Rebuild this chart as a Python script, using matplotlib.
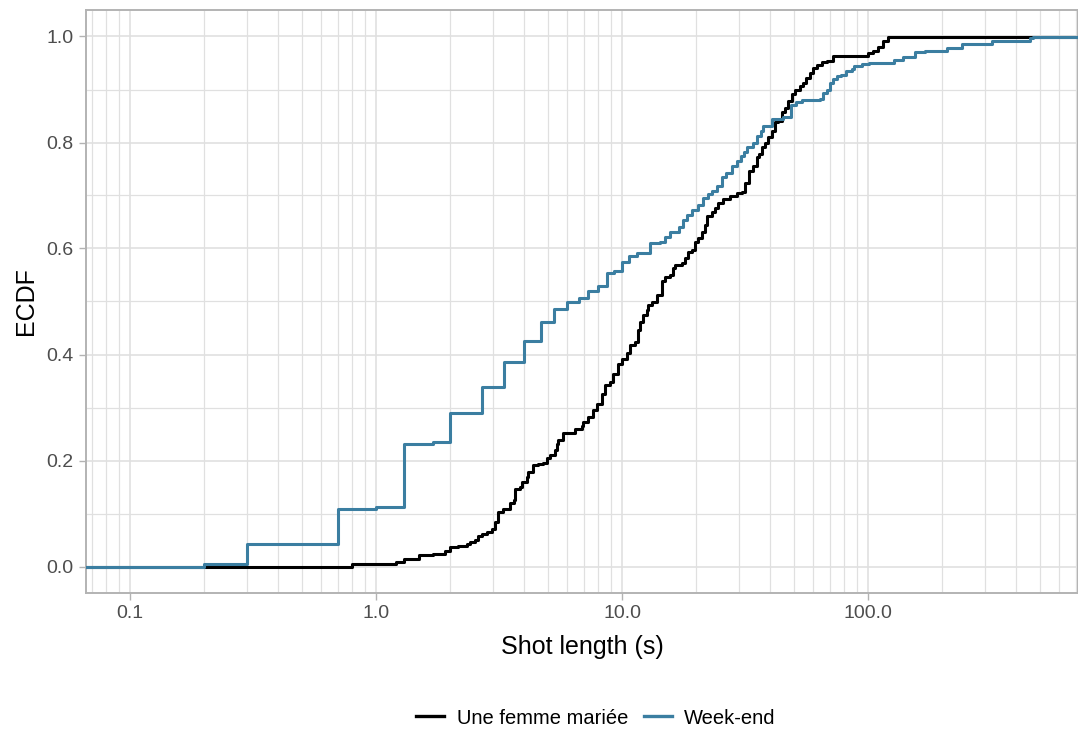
import numpy as np
import matplotlib
matplotlib.use("Agg")
import matplotlib.pyplot as plt
from matplotlib.ticker import LogLocator, FixedLocator, FixedFormatter, NullFormatter, MultipleLocator, FormatStrFormatter
from matplotlib.lines import Line2D

plt.rcParams['font.family'] = ['Liberation Sans', 'DejaVu Sans']

# ---- data: ECDF step positions (shot length in s) and cumulative proportions ----
femme_x = [0.8, 1.2, 1.3, 1.5, 1.7, 1.9, 2.0, 2.15, 2.34, 2.4, 2.52, 2.6, 2.7, 2.83, 2.96,
           3.05, 3.13, 3.28, 3.5, 3.64, 3.67, 3.85, 3.92, 4.11, 4.15, 4.35, 4.56, 4.77, 4.96,
           5.1, 5.34, 5.44, 5.49, 5.76, 6.15, 6.44, 6.88, 6.94, 7.27, 7.62, 7.91, 8.29, 8.53,
           8.94, 9.19, 9.63, 10.0, 10.48, 10.78, 11.29, 11.61, 11.83, 12.17, 12.64, 12.76,
           13.24, 13.88, 14.54, 14.96, 15.67, 16.12, 16.42, 17.54, 18.04, 18.55, 19.26, 19.81,
           20.37, 21.15, 21.75, 22.16, 23.22, 23.88, 24.56, 25.74, 27.48, 29.35, 30.75, 31.62,
           32.83, 34.08, 35.39, 36.06, 37.08, 38.13, 39.22, 40.71, 41.88, 43.06, 44.71, 45.98,
           47.29, 49.1, 50.5, 52.91, 54.41, 55.98, 58.1, 59.75, 62.05, 65.02, 68.14, 72.08,
           97.2, 100.0, 104.8, 109.8, 115.1, 120.6]
femme_y = [0.005, 0.008, 0.0145, 0.021, 0.024, 0.030, 0.036, 0.038, 0.042, 0.046, 0.050, 0.057,
           0.062, 0.065, 0.071, 0.084, 0.103, 0.109, 0.120, 0.125, 0.147, 0.150, 0.159, 0.169,
           0.178, 0.191, 0.194, 0.195, 0.204, 0.210, 0.219, 0.232, 0.238, 0.251, 0.252, 0.260,
           0.265, 0.272, 0.282, 0.295, 0.307, 0.326, 0.342, 0.348, 0.364, 0.383, 0.392, 0.402,
           0.418, 0.424, 0.446, 0.462, 0.474, 0.484, 0.493, 0.500, 0.512, 0.538, 0.546, 0.550,
           0.563, 0.569, 0.572, 0.582, 0.594, 0.597, 0.613, 0.620, 0.632, 0.645, 0.661, 0.668,
           0.677, 0.686, 0.693, 0.700, 0.705, 0.706, 0.724, 0.747, 0.756, 0.772, 0.778, 0.791,
           0.800, 0.810, 0.822, 0.838, 0.841, 0.857, 0.866, 0.879, 0.891, 0.900, 0.907, 0.913,
           0.922, 0.932, 0.941, 0.947, 0.952, 0.953, 0.963, 0.964, 0.969, 0.972, 0.981, 0.991,
           1.0]

weekend_x = [0.2, 0.3, 0.7, 1.0, 1.3, 1.7, 2.0, 2.7, 3.3, 4.0, 4.7, 5.3, 6.0, 6.7, 7.3, 8.0,
             8.7, 9.3, 10.0, 10.7, 11.5, 13.0, 14.3, 15.0, 15.7, 17.0, 17.7, 18.3, 19.3, 20.3,
             21.3, 22.3, 23.3, 24.3, 25.5, 26.5, 28.0, 29.3, 30.5, 31.3, 32.2, 34.1, 35.4, 36.7,
             37.5, 40.6, 45.1, 48.5, 51.2, 54.0, 63.6, 65.8, 68.0, 70.0, 72.0, 74.6, 78.0, 81.7,
             85.9, 88.1, 94.3, 101.0, 127.0, 139.0, 155.0, 171.0, 209.0, 240.0, 318.0, 455.0,
             470.0]
weekend_y = [0.005, 0.043, 0.109, 0.112, 0.232, 0.235, 0.290, 0.339, 0.386, 0.426, 0.461,
             0.486, 0.499, 0.506, 0.520, 0.529, 0.554, 0.558, 0.575, 0.585, 0.592, 0.610,
             0.613, 0.622, 0.632, 0.641, 0.653, 0.663, 0.673, 0.682, 0.695, 0.703, 0.709,
             0.717, 0.735, 0.743, 0.755, 0.766, 0.774, 0.783, 0.791, 0.800, 0.813, 0.821,
             0.832, 0.844, 0.849, 0.870, 0.877, 0.881, 0.883, 0.893, 0.900, 0.913, 0.920,
             0.925, 0.928, 0.935, 0.939, 0.944, 0.948, 0.950, 0.955, 0.962, 0.970, 0.973,
             0.978, 0.986, 0.992, 0.997, 1.0]

series_names = ["Une femme mariée", "Week-end"]
series_colors = ["#000000", "#3B7EA1"]
x_ticks = [0.1, 1.0, 10.0, 100.0]
x_tick_labels = ["0.1", "1.0", "10.0", "100.0"]

# ---- figure ----
W, H = 1078, 729
fig = plt.figure(figsize=(W / 100, H / 100), dpi=100)
ax = fig.add_axes([86 / W, 1 - 593 / H, (1078 - 86) / W, (593 - 10) / H])

xlim = (0.0662, 714.0)
ax.set_xscale('log')
ax.set_xlim(*xlim)
ax.set_ylim(-0.05, 1.05)

grid_c = "#E0E0E0"
ax.xaxis.set_major_locator(FixedLocator(x_ticks))
ax.xaxis.set_major_formatter(FixedFormatter(x_tick_labels))
ax.xaxis.set_minor_locator(LogLocator(base=10, subs=np.arange(2, 10)))
ax.xaxis.set_minor_formatter(NullFormatter())
ax.yaxis.set_major_locator(MultipleLocator(0.2))
ax.yaxis.set_minor_locator(MultipleLocator(0.1))
ax.yaxis.set_major_formatter(FormatStrFormatter('%.1f'))

ax.grid(True, which='major', color=grid_c, linewidth=1.2, zorder=0)
ax.grid(True, which='minor', color=grid_c, linewidth=0.9, zorder=0)
ax.set_axisbelow(True)

for s in ax.spines.values():
    s.set_color("#B3B3B3")
    s.set_linewidth(1.4)

ax.tick_params(which='major', length=5, width=1.0, color="#B3B3B3",
               labelsize=14, labelcolor="#4D4D4D", pad=4)
ax.tick_params(which='minor', length=0)

# ECDF steps, padded to the panel edges (like stat_ecdf pad=TRUE)
for xs, ys, col in [(femme_x, femme_y, series_colors[0]), (weekend_x, weekend_y, series_colors[1])]:
    px = [xlim[0] * 0.5] + list(xs) + [xlim[1] * 2]
    py = [0.0] + list(ys) + [ys[-1]]
    ax.step(px, py, where='post', color=col, linewidth=2.2, zorder=3)

ax.set_xlabel("Shot length (s)", fontsize=18, color="black", labelpad=9)
ax.set_ylabel("ECDF", fontsize=18, color="black", labelpad=6)

handles = [Line2D([0], [0], color=c, lw=2.4) for c in series_colors]
fig.legend(handles, series_names, loc='center', bbox_to_anchor=(596 / W, 1 - 718 / H),
           ncol=2, frameon=False, fontsize=14.5, handlelength=1.4, handletextpad=0.6,
           columnspacing=0.8)

fig.savefig("out.png", dpi=100)
